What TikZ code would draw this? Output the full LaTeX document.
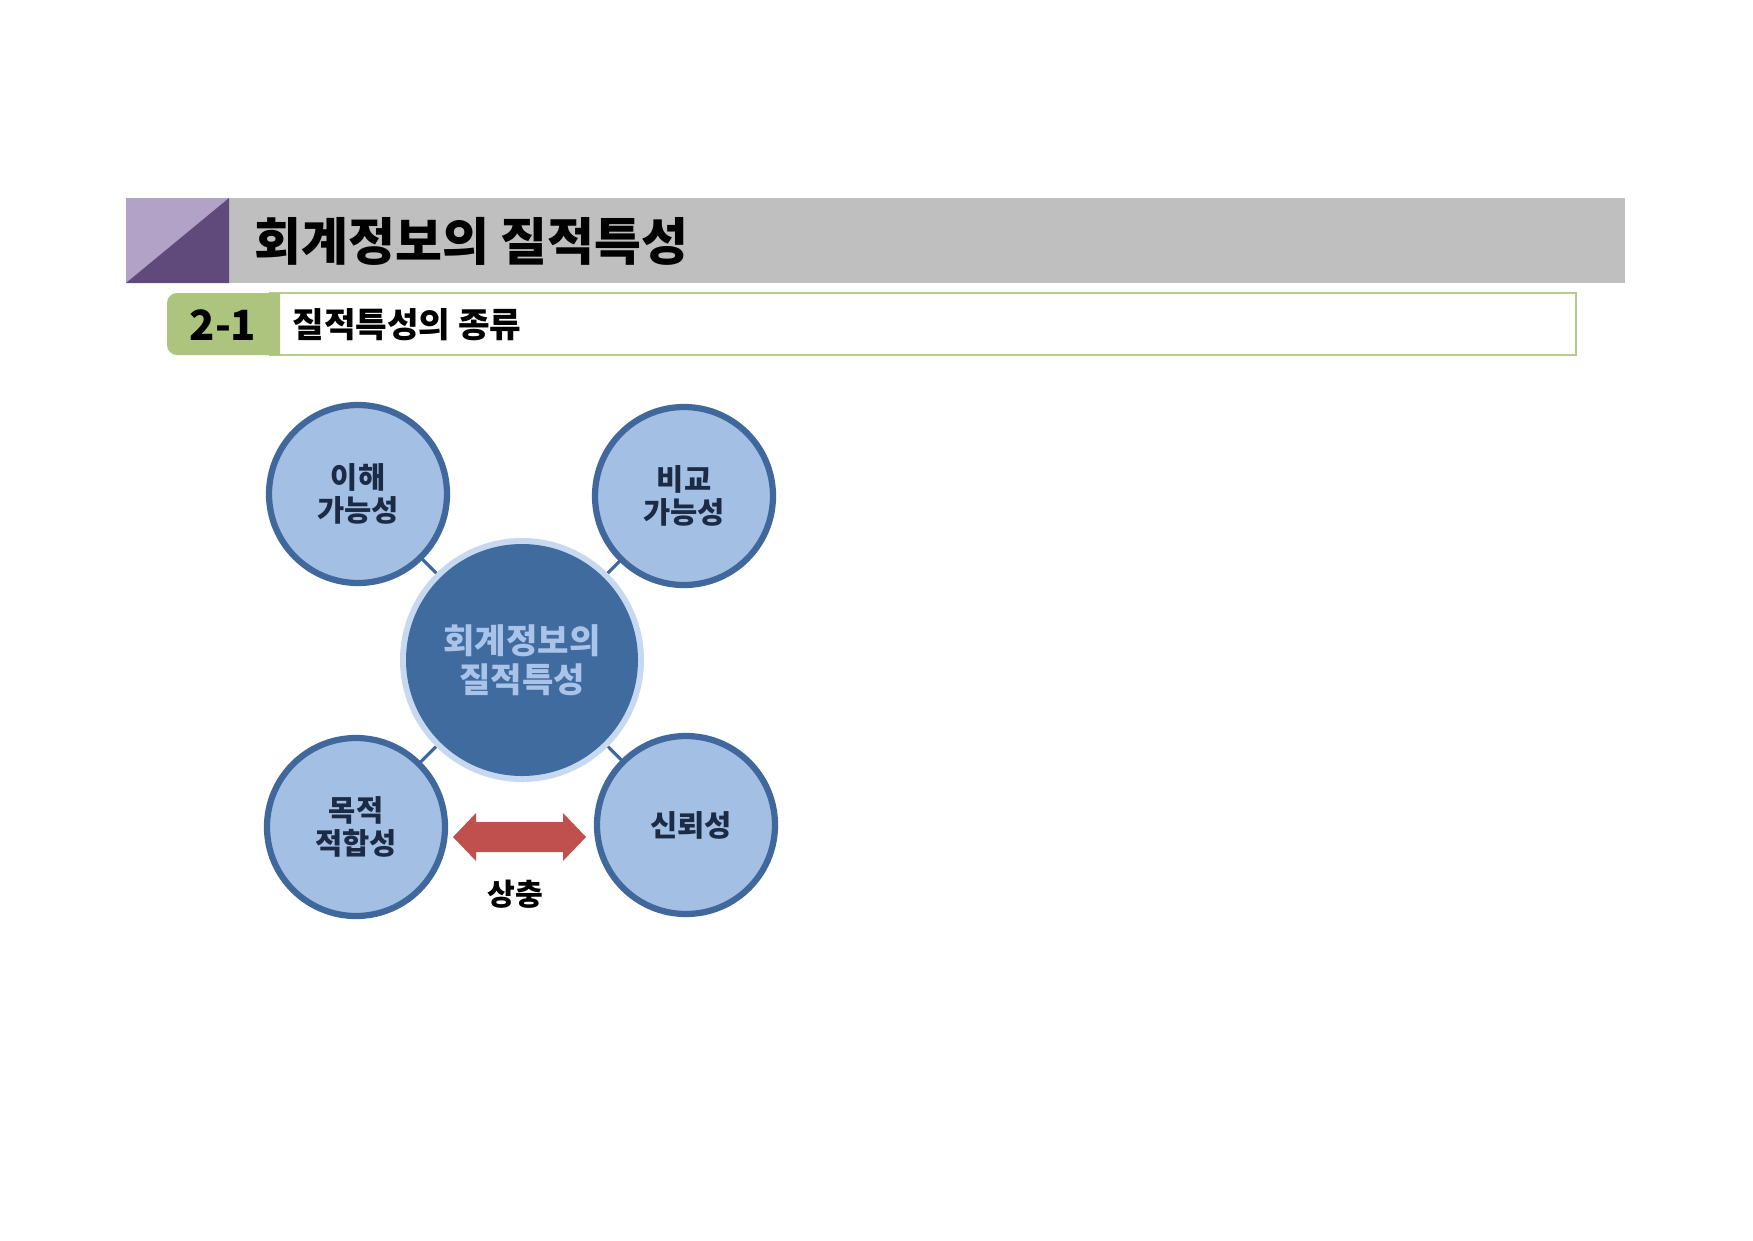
\documentclass[tikz,border=0pt]{standalone}
\usepackage{fontspec}
\setmainfont{Noto Sans CJK KR}
\definecolor{hdrgray}{HTML}{BFBFBF}
\definecolor{purlight}{HTML}{B3A2C7}
\definecolor{purdark}{HTML}{604A7B}
\definecolor{tabgreen}{HTML}{ADC47E}
\definecolor{boxgreen}{HTML}{B5CC8E}
\definecolor{ringblue}{HTML}{41689D}
\definecolor{fillblue}{HTML}{A3BFE4}
\definecolor{coreblue}{HTML}{3F6B9F}
\definecolor{halo}{HTML}{C7D9F0}
\definecolor{coretext}{HTML}{A9C4E8}
\definecolor{navy}{HTML}{1B2B45}
\definecolor{arrowred}{HTML}{C0504D}
\newlength{\pxu}\setlength{\pxu}{0.4803pt}
\tikzset{
  outer/.style={circle, draw=ringblue, line width=3pt, fill=fillblue, minimum size=178\pxu, inner sep=0pt,
     font=\bfseries\fontsize{14.2}{16}\selectfont, text=navy, align=center},
  link/.style={draw=ringblue, line width=1.5pt},
}
\begin{document}
\begin{tikzpicture}[x=0.4803pt,y=-0.4803pt]
\useasboundingbox (0,0) rectangle (1753,1240);
% header
\fill[hdrgray] (126,198) rectangle (1625,283);
\fill[purlight] (126,198) -- (229,198) -- (126,283) -- cycle;
\fill[purdark] (229,198) -- (229,283) -- (126,283) -- cycle;
\node[anchor=west, inner sep=0pt, font=\bfseries\fontsize{24.5}{28}\selectfont] (title) at (254,241) {회계정보의 질적특성};
% subheader
\draw[boxgreen, line width=1.2pt] (270,293) rectangle (1576,355);
\fill[tabgreen] (280,293) [rounded corners=10\pxu] -- (167,293) -- (167,355) [sharp corners] -- (280,355) -- cycle;
\node[inner sep=0pt, font=\bfseries\fontsize{20}{24}\selectfont] (num) at (223,325) {2-1};
\node[anchor=west, inner sep=0pt, font=\bfseries\fontsize{16.5}{20}\selectfont] (sub) at (292,325) {질적특성의 종류};
% circles
\coordinate (cC) at (522,660);
\coordinate (cTL) at (358,494);
\coordinate (cTR) at (684,496);
\coordinate (cBL) at (356,827);
\coordinate (cBR) at (686,825);
\draw[link] (cC) -- (cTL);
\draw[link] (cC) -- (cTR);
\draw[link] (cC) -- (cBL);
\draw[link] (cC) -- (cBR);
\node[circle, fill=halo, minimum size=244\pxu, inner sep=0pt] (halo) at (cC) {};
\node[circle, fill=coreblue, minimum size=232\pxu, inner sep=0pt, font=\bfseries\fontsize{16.4}{18.5}\selectfont, text=coretext, align=center] (core) at (cC) {회계정보의\\질적특성};
\node[outer] (tl) at (cTL) {이해\\가능성};
\node[outer] (tr) at (cTR) {비교\\가능성};
\node[outer] (bl) at (cBL) {목적\\적합성};
\node[outer] (br) at (cBR) {\hspace*{10\pxu}신뢰성};
% trade-off arrow
\coordinate (arr) at (519,837);
\fill[arrowred] (453,837) -- (476,813) -- (476,822) -- (563,822) -- (563,813) -- (586,837)
   -- (563,861) -- (563,852) -- (476,852) -- (476,861) -- cycle;
\node[font=\bfseries\fontsize{14.5}{16}\selectfont] (lbl) at (515,894) {상충};
\end{tikzpicture}
\end{document}
